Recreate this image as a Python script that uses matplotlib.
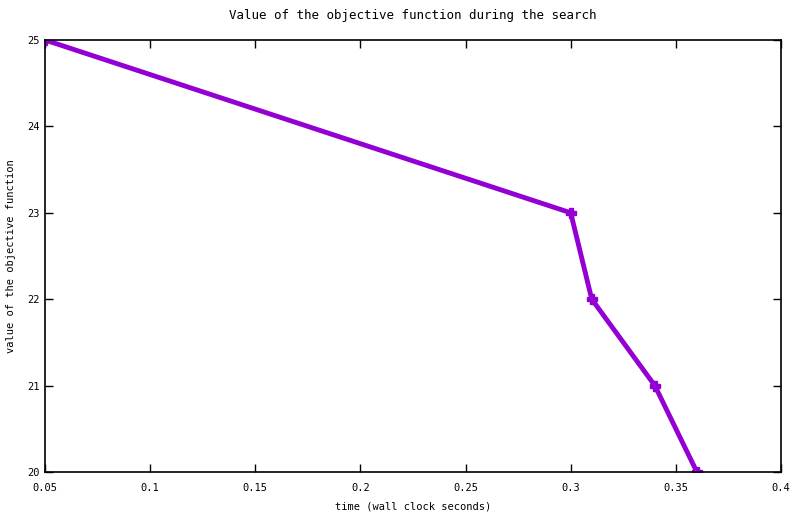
import matplotlib
matplotlib.use("Agg")
import matplotlib.pyplot as plt

times = [0.05, 0.30, 0.31, 0.34, 0.36]
values = [25, 23, 22, 21, 20]
xticks = [0.05, 0.1, 0.15, 0.2, 0.25, 0.3, 0.35, 0.4]
xticklabels = ["0.05", "0.1", "0.15", "0.2", "0.25", "0.3", "0.35", "0.4"]
yticks = [20, 21, 22, 23, 24, 25]

plt.rcParams['font.family'] = ['DejaVu Sans Mono']
plt.rcParams['font.size'] = 7.5

fig = plt.figure(figsize=(8, 5.14), dpi=100)
ax = fig.add_axes([45/800, 1-472/514, (781-45)/800, (472-40)/514])
ax.plot(times, values, color='#9400D3', linewidth=3.5, marker='P', markersize=7,
        solid_joinstyle='miter')
ax.set_xlim(0.05, 0.4)
ax.set_ylim(20, 25)
ax.set_xticks(xticks)
ax.set_xticklabels(xticklabels)
ax.set_yticks(yticks)
ax.tick_params(direction='in', top=True, right=True, length=6, width=1)
ax.tick_params(axis='x', pad=8)
ax.tick_params(axis='y', pad=4)
for s in ax.spines.values():
    s.set_linewidth(1.2)
ax.set_title("Value of the objective function during the search", pad=15)
ax.set_xlabel("time (wall clock seconds)", labelpad=6)
ax.set_ylabel("value of the objective function")
ax.yaxis.set_label_coords((16 - 45) / 736, 0.5)
fig.savefig("out.png", dpi=100)
